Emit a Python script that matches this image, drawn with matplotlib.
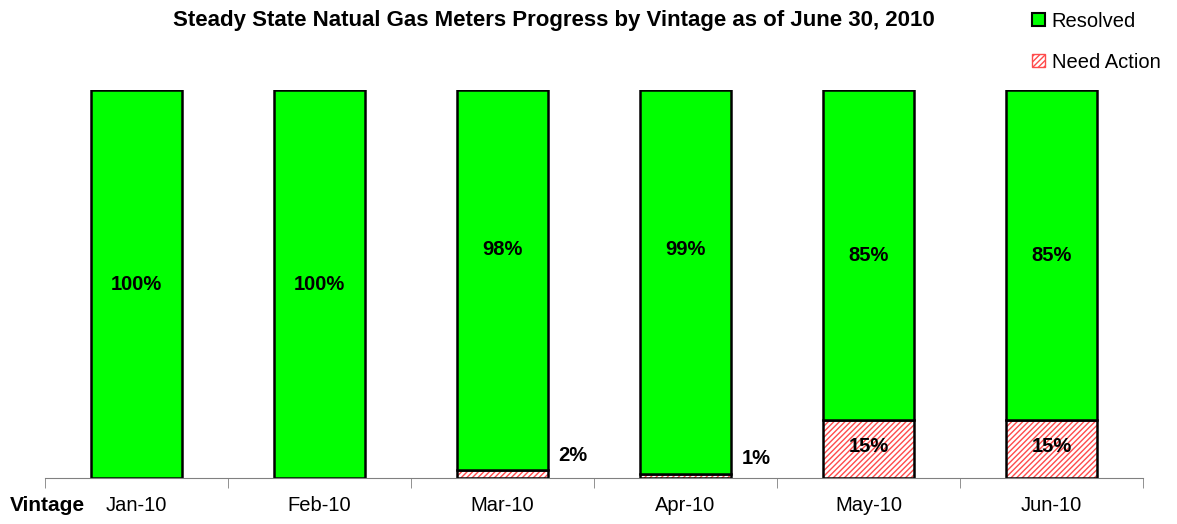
import matplotlib
matplotlib.use("Agg")
import matplotlib.pyplot as plt
from matplotlib.patches import Patch
import numpy as np

plt.rcParams['font.family'] = ['Liberation Sans', 'DejaVu Sans']
plt.rcParams['hatch.linewidth'] = 1.0

vintages = ['Jan-10', 'Feb-10', 'Mar-10', 'Apr-10', 'May-10', 'Jun-10']
resolved = [100, 100, 98, 99, 85, 85]
need_action = [0, 0, 2, 1, 15, 15]

fig = plt.figure(figsize=(11.77, 5.24), dpi=100)
ax = fig.add_axes([0.0382, 0.0878, 0.933, 0.740])

x = np.arange(len(vintages))
w = 0.5
res = np.array(resolved) / 100
need = np.array(need_action) / 100

# hatch layer (red stripes), then black outline on top
ax.bar(x, need, w, color='white', edgecolor='#FF4B4B', hatch='//////', linewidth=0)
ax.bar(x, need, w, fill=False, edgecolor='black', linewidth=1.8)
ax.bar(x, res, w, bottom=need, color='#00FF00', edgecolor='black', linewidth=1.8)

lbl = dict(ha='center', va='center', fontsize=14.5, fontweight='bold')
for i in range(len(x)):
    r, n = res[i], need[i]
    if n == 0:
        ax.text(x[i], r / 2, f'{resolved[i]}%', **lbl)
    elif n < 0.05:
        ax.text(x[i], 0.59, f'{resolved[i]}%', **lbl)
        ax.text(x[i] + w / 2 + 0.135, 0.058 - 0.008 * (i - 2), f'{need_action[i]}%', **lbl)
    else:
        ax.text(x[i], n + r / 2, f'{resolved[i]}%', **lbl)
        ax.text(x[i], n / 2 + 0.005, f'{need_action[i]}%', **lbl)

ax.set_xlim(-0.5, len(x) - 0.5)
ax.set_ylim(0, 1)
ax.set_xticks(x)
ax.set_xticklabels(vintages, fontsize=14.5)
ax.set_xticks(np.arange(len(x) + 1) - 0.5, minor=True)
ax.tick_params(axis='x', which='major', length=0, pad=13)
ax.tick_params(axis='x', which='minor', length=7, color='#808080', direction='out')
ax.set_yticks([])
for s in ['top', 'right', 'left']:
    ax.spines[s].set_visible(False)
ax.spines['bottom'].set_color('#808080')

fig.text(0.0085, 0.036, 'Vintage', fontsize=15, fontweight='bold', ha='left', va='center')
fig.text(0.471, 0.961, 'Steady State Natual Gas Meters Progress by Vintage as of June 30, 2010',
         fontsize=16, fontweight='bold', ha='center', va='center')

handles = [Patch(facecolor='#00FF00', edgecolor='black', linewidth=1.5, label='Resolved'),
           Patch(facecolor='white', edgecolor='#FF4B4B', hatch='//////', label='Need Action')]
leg = fig.legend(handles=handles, loc='upper left', bbox_to_anchor=(0.877, 0.978),
                 frameon=False, fontsize=14.5, handlelength=0.62, handleheight=0.62,
                 handletextpad=0.35, labelspacing=1.1, borderpad=0, borderaxespad=0)

fig.savefig('out.png', dpi=100)
